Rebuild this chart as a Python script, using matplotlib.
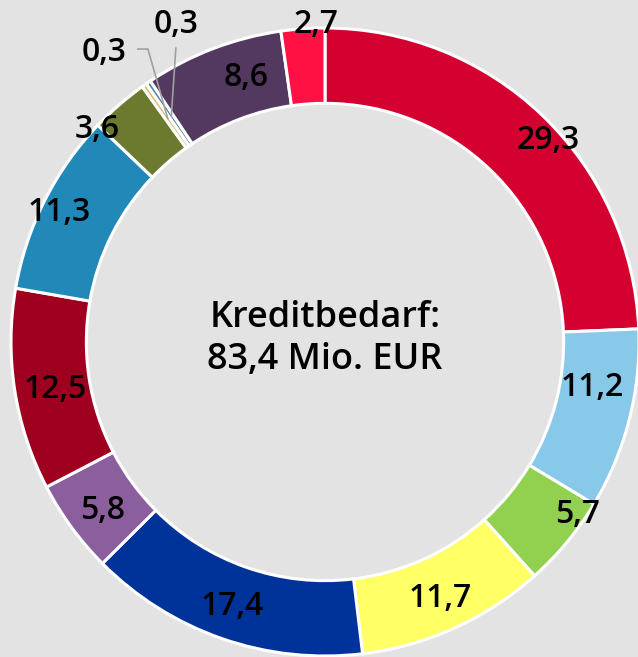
import matplotlib
matplotlib.use("Agg")
import matplotlib.pyplot as plt
import numpy as np

values = [29.3, 11.2, 5.7, 11.7, 17.4, 5.8, 12.5, 11.3, 3.6, 0.3, 0.3, 8.6, 2.7]
labels = ["29,3", "11,2", "5,7", "11,7", "17,4", "5,8", "12,5", "11,3", "3,6", "0,3", "0,3", "8,6", "2,7"]
colors = ["#D40030", "#88C8E8", "#92D050", "#FFFF66", "#003399", "#8B5E9E",
          "#A00020", "#2288B8", "#6B7A2F", "#D8B870", "#5080A0", "#533860", "#FF1144"]
label_radius = [0.962, 0.861, 0.971, 0.888, 0.885, 0.883, 0.872, 0.946, 0.996, None, None, 0.887, 1.019]
label_shift = [-3.75, 5.2, 5.7, 0, -0.4, 0.6, 0.6, 0.4, 5.8, 0, 0, -4.45, -2.4]  # degrees
center_text = "Kreditbedarf:\n83,4 Mio. EUR"

plt.rcParams['font.family'] = ['Open Sans', 'DejaVu Sans']
W, H = 638, 657
fig = plt.figure(figsize=(W / 100, H / 100), dpi=100)
bg = "#E3E3E3"
fig.patch.set_facecolor(bg)
ax = fig.add_axes([0, 0, 1, 1])
ax.set_facecolor(bg)
R = 314.0
cx, cy = 325.0, 342.0
ax.axis("off")

wedges, _ = ax.pie(values, colors=colors, startangle=90, counterclock=False, radius=1.0,
                   wedgeprops=dict(width=0.24, edgecolor="white", linewidth=2.2))
ax.set_xlim(-cx / R, (W - cx) / R)
ax.set_ylim(-(H - cy) / R, cy / R)
ax.set_aspect("auto")

FS = 23
dy = -0.007
for w, lab, rr, sh in zip(wedges, labels, label_radius, label_shift):
    if rr is None:
        continue
    ang = np.deg2rad((w.theta1 + w.theta2) / 2 + sh)
    ax.text(rr * np.cos(ang), rr * np.sin(ang) + dy, lab, ha="center", va="center",
            fontsize=FS, fontweight="semibold", color="black")

# leader labels for tiny slices
tiny = [i for i, v in enumerate(values) if v < 1]
w1, w2 = wedges[tiny[0]], wedges[tiny[1]]
a1 = np.deg2rad((w1.theta1 + w1.theta2) / 2)
a2 = np.deg2rad((w2.theta1 + w2.theta2) / 2)
p1 = (0.87 * np.cos(a1), 0.87 * np.sin(a1))
p2 = (0.87 * np.cos(a2), 0.87 * np.sin(a2))
ax.plot([-0.596, -0.564, p1[0]], [0.933, 0.933, p1[1]], color="#A0A0A0", lw=1.2)
ax.plot([-0.475, p2[0]], [0.936, p2[1]], color="#A0A0A0", lw=1.2)
ax.text(-0.704, 0.930 + dy, labels[tiny[0]], ha="center", va="center", fontsize=FS, fontweight="semibold")
ax.text(-0.475, 1.019 + dy, labels[tiny[1]], ha="center", va="center", fontsize=FS, fontweight="semibold")

ax.text(0, 0.010, center_text, ha="center", va="center", fontsize=26,
        fontweight="semibold", linespacing=1.2)

fig.savefig("out.png", dpi=100, facecolor=bg)
